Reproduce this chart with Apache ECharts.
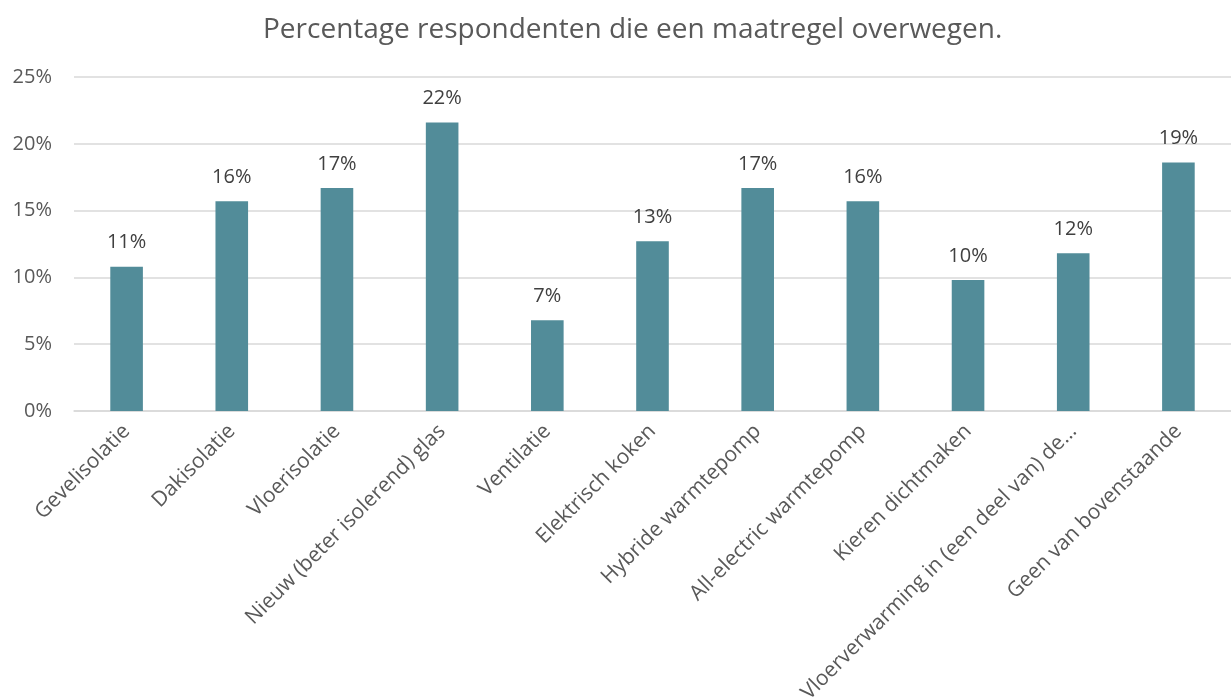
<!DOCTYPE html>
<html>
<head>
<meta charset="utf-8">
<script src="https://cdn.jsdelivr.net/npm/echarts@6/dist/echarts.min.js"></script>
<style>
    html, body { margin: 0; padding: 0; background: #fff; }
    #chart { width: 1231px; height: 697px; }
</style>
</head>
<body>
<div id="chart"></div>
<script>
var categories = [
    'Gevelisolatie',
    'Dakisolatie',
    'Vloerisolatie',
    'Nieuw (beter isolerend) glas',
    'Ventilatie',
    'Elektrisch koken',
    'Hybride warmtepomp',
    'All-electric warmtepomp',
    'Kieren dichtmaken',
    'Vloerverwarming in (een deel van) de…',
    'Geen van bovenstaande'
];
var percentages = [10.8, 15.7, 16.7, 21.6, 6.8, 12.7, 16.7, 15.7, 9.8, 11.8, 18.6];
var yTicks = [0, 5, 10, 15, 20, 25];

var chart = echarts.init(document.getElementById('chart'));
var font = '"Open Sans", "Noto Sans", sans-serif';

var option = {
    animation: false,
    title: {
        text: 'Percentage respondenten die een maatregel overwegen.',
        left: 258,
        top: 11,
        textStyle: { fontFamily: font, fontSize: 28, fontWeight: 'normal', color: '#595959' }
    },
    grid: { left: 74, right: 0, top: 77, bottom: 286, containLabel: false, outerBoundsMode: 'none' },
    xAxis: {
        type: 'category',
        data: categories,
        axisLine: { lineStyle: { color: '#d9d9d9', width: 1.5 } },
        axisTick: { show: false },
        axisLabel: {
            interval: 0,
            rotate: 45,
            margin: 17,
            fontFamily: font,
            fontSize: 21,
            color: '#595959'
        }
    },
    yAxis: {
        type: 'value',
        min: yTicks[0],
        max: yTicks[yTicks.length - 1],
        interval: 5,
        axisLine: { show: false },
        axisTick: { show: false },
        splitLine: { lineStyle: { color: '#d9d9d9', width: 1.5 } },
        axisLabel: {
            margin: 22,
            fontFamily: font,
            fontSize: 20,
            color: '#595959',
            formatter: function (v) { return v + '%'; }
        }
    },
    series: [{
        type: 'bar',
        data: percentages,
        barWidth: '31%',
        itemStyle: { color: '#528c99' },
        label: {
            show: true,
            position: 'top',
            distance: 14,
            fontFamily: font,
            fontSize: 20,
            color: '#404040',
            formatter: function (p) { return Math.round(p.value) + '%'; }
        }
    }]
};
chart.setOption(option);
</script>
</body>
</html>
